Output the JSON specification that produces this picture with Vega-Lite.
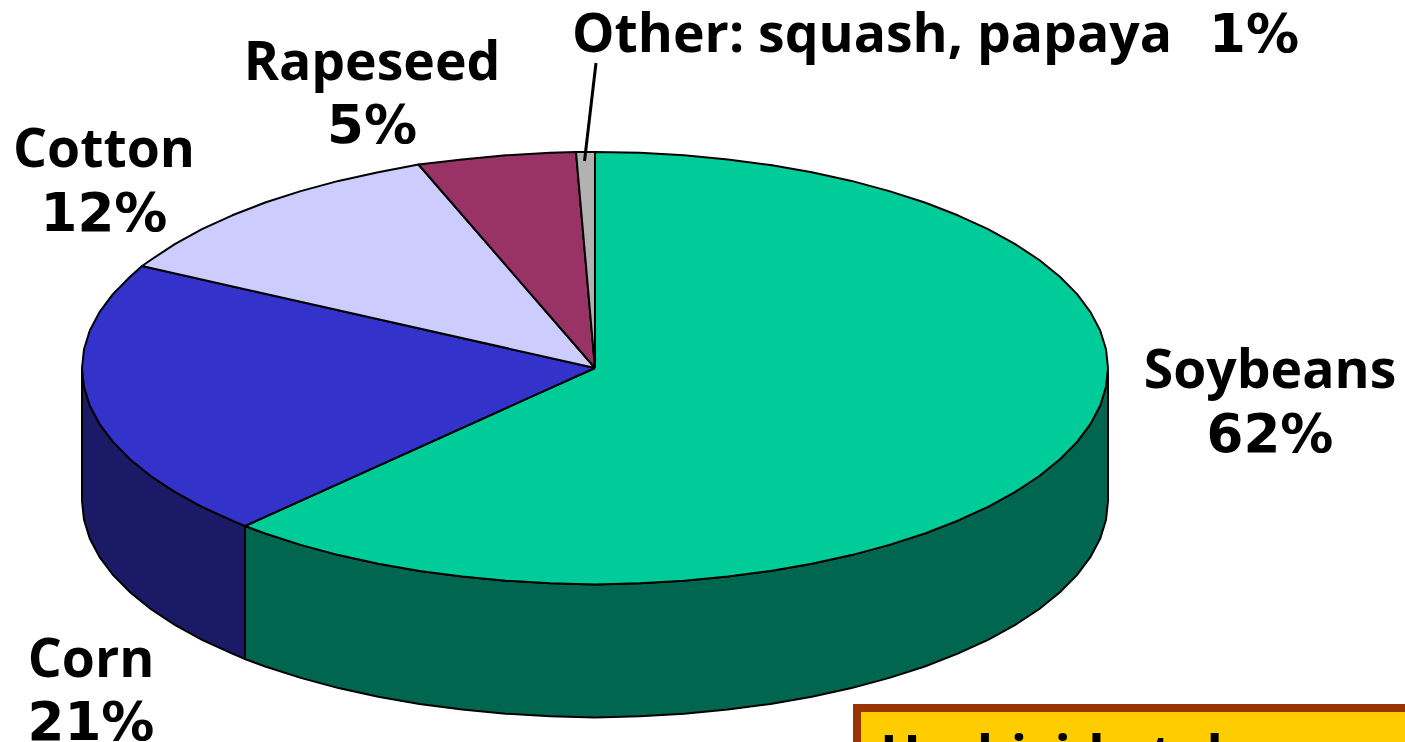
{"$schema":"https://vega.github.io/schema/vega-lite/v6.json","autosize":"none","padding":0,"width":1405,"height":742,"background":"white","view":{"stroke":null},
"config":{"axis":{"disable":true}},
"resolve":{"scale":{"fill":"independent"}},
"datasets":{
"walls":[
{"part":"Corn side","x":82,"y":368,"y2":501},{"part":"Corn side","x":84,"y":386.8,"y2":519.8},{"part":"Corn side","x":89.8,"y":405.5,"y2":538.5},{"part":"Corn side","x":99.5,"y":423.9,"y2":556.9},{"part":"Corn side","x":112.9,"y":441.9,"y2":574.9},{"part":"Corn side","x":130.1,"y":459.3,"y2":592.3},{"part":"Corn side","x":150.7,"y":476,"y2":609},{"part":"Corn side","x":174.8,"y":491.9,"y2":624.9},{"part":"Corn side","x":202,"y":506.8,"y2":639.8},{"part":"Corn side","x":232.3,"y":520.7,"y2":653.7},{"part":"Corn side","x":245,"y":526,"y2":659},
{"part":"Soybeans side","x":245,"y":526,"y2":659},{"part":"Soybeans side","x":265.2,"y":533.5,"y2":666.5},{"part":"Soybeans side","x":300.7,"y":544.9,"y2":677.9},{"part":"Soybeans side","x":338.5,"y":555.1,"y2":688.1},{"part":"Soybeans side","x":378.2,"y":563.8,"y2":696.8},{"part":"Soybeans side","x":419.5,"y":571,"y2":704},{"part":"Soybeans side","x":462.2,"y":576.6,"y2":709.6},{"part":"Soybeans side","x":505.9,"y":580.7,"y2":713.7},{"part":"Soybeans side","x":550.3,"y":583.2,"y2":716.2},{"part":"Soybeans side","x":595,"y":584.5,"y2":717.5},{"part":"Soybeans side","x":639.7,"y":583.2,"y2":716.2},{"part":"Soybeans side","x":684.1,"y":580.7,"y2":713.7},{"part":"Soybeans side","x":727.8,"y":576.6,"y2":709.6},{"part":"Soybeans side","x":770.5,"y":571,"y2":704},{"part":"Soybeans side","x":811.8,"y":563.8,"y2":696.8},{"part":"Soybeans side","x":851.5,"y":555.1,"y2":688.1},{"part":"Soybeans side","x":889.3,"y":544.9,"y2":677.9},{"part":"Soybeans side","x":924.8,"y":533.5,"y2":666.5},{"part":"Soybeans side","x":957.7,"y":520.7,"y2":653.7},{"part":"Soybeans side","x":988,"y":506.8,"y2":639.8},{"part":"Soybeans side","x":1015.2,"y":491.9,"y2":624.9},{"part":"Soybeans side","x":1039.3,"y":476,"y2":609},{"part":"Soybeans side","x":1059.9,"y":459.3,"y2":592.3},{"part":"Soybeans side","x":1077.1,"y":441.9,"y2":574.9},{"part":"Soybeans side","x":1090.5,"y":423.9,"y2":556.9},{"part":"Soybeans side","x":1100.2,"y":405.5,"y2":538.5},{"part":"Soybeans side","x":1106,"y":386.8,"y2":519.8},{"part":"Soybeans side","x":1108,"y":368,"y2":501}
],
"tops":[
{"part":"Soybeans","i":0,"x":595,"y":368},{"part":"Soybeans","i":1,"x":595,"y":152},{"part":"Soybeans","i":2,"x":639.7,"y":152.8},{"part":"Soybeans","i":3,"x":684.1,"y":155.3},{"part":"Soybeans","i":4,"x":727.8,"y":159.4},{"part":"Soybeans","i":5,"x":770.5,"y":165},{"part":"Soybeans","i":6,"x":811.8,"y":172.2},{"part":"Soybeans","i":7,"x":851.5,"y":180.9},{"part":"Soybeans","i":8,"x":889.3,"y":191.1},{"part":"Soybeans","i":9,"x":924.8,"y":202.5},{"part":"Soybeans","i":10,"x":957.7,"y":215.3},{"part":"Soybeans","i":11,"x":988,"y":229.2},{"part":"Soybeans","i":12,"x":1015.2,"y":244.1},{"part":"Soybeans","i":13,"x":1039.3,"y":260},{"part":"Soybeans","i":14,"x":1059.9,"y":276.7},{"part":"Soybeans","i":15,"x":1077.1,"y":294.1},{"part":"Soybeans","i":16,"x":1090.5,"y":312.1},{"part":"Soybeans","i":17,"x":1100.2,"y":330.5},{"part":"Soybeans","i":18,"x":1106,"y":349.2},{"part":"Soybeans","i":19,"x":1108,"y":368},{"part":"Soybeans","i":20,"x":1106,"y":386.8},{"part":"Soybeans","i":21,"x":1100.2,"y":405.5},{"part":"Soybeans","i":22,"x":1090.5,"y":423.9},{"part":"Soybeans","i":23,"x":1077.1,"y":441.9},{"part":"Soybeans","i":24,"x":1059.9,"y":459.3},{"part":"Soybeans","i":25,"x":1039.3,"y":476},{"part":"Soybeans","i":26,"x":1015.2,"y":491.9},{"part":"Soybeans","i":27,"x":988,"y":506.8},{"part":"Soybeans","i":28,"x":957.7,"y":520.7},{"part":"Soybeans","i":29,"x":924.8,"y":533.5},{"part":"Soybeans","i":30,"x":889.3,"y":544.9},{"part":"Soybeans","i":31,"x":851.5,"y":555.1},{"part":"Soybeans","i":32,"x":811.8,"y":563.8},{"part":"Soybeans","i":33,"x":770.5,"y":571},{"part":"Soybeans","i":34,"x":727.8,"y":576.6},{"part":"Soybeans","i":35,"x":684.1,"y":580.7},{"part":"Soybeans","i":36,"x":639.7,"y":583.2},{"part":"Soybeans","i":37,"x":595,"y":584.5},{"part":"Soybeans","i":38,"x":550.3,"y":583.2},{"part":"Soybeans","i":39,"x":505.9,"y":580.7},{"part":"Soybeans","i":40,"x":462.2,"y":576.6},{"part":"Soybeans","i":41,"x":419.5,"y":571},{"part":"Soybeans","i":42,"x":378.2,"y":563.8},{"part":"Soybeans","i":43,"x":338.5,"y":555.1},{"part":"Soybeans","i":44,"x":300.7,"y":544.9},{"part":"Soybeans","i":45,"x":265.2,"y":533.5},{"part":"Soybeans","i":46,"x":245,"y":526},{"part":"Soybeans","i":47,"x":595,"y":368},
{"part":"Corn","i":0,"x":595,"y":368},{"part":"Corn","i":1,"x":245,"y":526},{"part":"Corn","i":2,"x":232.3,"y":520.7},{"part":"Corn","i":3,"x":202,"y":506.8},{"part":"Corn","i":4,"x":174.8,"y":491.9},{"part":"Corn","i":5,"x":150.7,"y":476},{"part":"Corn","i":6,"x":130.1,"y":459.3},{"part":"Corn","i":7,"x":112.9,"y":441.9},{"part":"Corn","i":8,"x":99.5,"y":423.9},{"part":"Corn","i":9,"x":89.8,"y":405.5},{"part":"Corn","i":10,"x":84,"y":386.8},{"part":"Corn","i":11,"x":82,"y":368},{"part":"Corn","i":12,"x":84,"y":349.2},{"part":"Corn","i":13,"x":89.8,"y":330.5},{"part":"Corn","i":14,"x":99.5,"y":312.1},{"part":"Corn","i":15,"x":112.9,"y":294.1},{"part":"Corn","i":16,"x":130.1,"y":276.7},{"part":"Corn","i":17,"x":142,"y":266},{"part":"Corn","i":18,"x":595,"y":368},
{"part":"Cotton","i":0,"x":595,"y":368},{"part":"Cotton","i":1,"x":142,"y":266},{"part":"Cotton","i":2,"x":150.7,"y":260},{"part":"Cotton","i":3,"x":174.8,"y":244.1},{"part":"Cotton","i":4,"x":202,"y":229.2},{"part":"Cotton","i":5,"x":232.3,"y":215.3},{"part":"Cotton","i":6,"x":265.2,"y":202.5},{"part":"Cotton","i":7,"x":300.7,"y":191.1},{"part":"Cotton","i":8,"x":338.5,"y":180.9},{"part":"Cotton","i":9,"x":378.2,"y":172.2},{"part":"Cotton","i":10,"x":418.5,"y":164.5},{"part":"Cotton","i":11,"x":595,"y":368},
{"part":"Rapeseed","i":0,"x":595,"y":368},{"part":"Rapeseed","i":1,"x":418.5,"y":164.5},{"part":"Rapeseed","i":2,"x":462.2,"y":159.4},{"part":"Rapeseed","i":3,"x":505.9,"y":155.3},{"part":"Rapeseed","i":4,"x":550.3,"y":152.8},{"part":"Rapeseed","i":5,"x":576,"y":152},{"part":"Rapeseed","i":6,"x":595,"y":368},
{"part":"Other","i":0,"x":595,"y":368},{"part":"Other","i":1,"x":576,"y":152},{"part":"Other","i":2,"x":595,"y":152},{"part":"Other","i":3,"x":595,"y":368}
],
"labels":[
{"t":"Soybeans","x":1270,"y":388},{"t":"Rapeseed","x":372,"y":80},{"t":"Cotton","x":104,"y":167},{"t":"Corn","x":91,"y":677},{"t":"Other: squash, papaya","x":872,"y":52}
],
"percents":[
{"t":"62%","x":1270,"y":452},{"t":"5%","x":372,"y":143},{"t":"12%","x":104,"y":231},{"t":"21%","x":91,"y":740},{"t":"1%","x":1254,"y":52}
]},
"layer":[
{"data":{"name":"walls"},"mark":{"type":"area","stroke":"black","strokeWidth":2,"clip":true},
"encoding":{"x":{"field":"x","type":"quantitative","scale":{"domain":[0,1405],"nice":false,"zero":false},"axis":null},"y":{"field":"y","type":"quantitative","scale":{"domain":[0,742],"reverse":true,"nice":false,"zero":false},"axis":null},"y2":{"field":"y2"},
"fill":{"field":"part","type":"nominal","legend":null,"scale":{"domain":["Soybeans side","Corn side"],"range":["#006650","#1A1A66"]}}}},
{"data":{"name":"tops"},"mark":{"type":"line","stroke":"black","strokeWidth":2,"strokeJoin":"round","clip":true},
"encoding":{"x":{"field":"x","type":"quantitative"},"y":{"field":"y","type":"quantitative"},"order":{"field":"i","type":"quantitative"},"detail":{"field":"part"},
"fill":{"field":"part","type":"nominal","legend":null,"scale":{"domain":["Soybeans","Corn","Cotton","Rapeseed","Other"],"range":["#00CC99","#3333CC","#CCCCFF","#993366","#B2B2B2"]}}}},
{"data":{"values":[{"x":596,"y":63,"x2":584.5,"y2":161}]},"mark":{"type":"rule","stroke":"black","strokeWidth":3},
"encoding":{"x":{"field":"x","type":"quantitative"},"y":{"field":"y","type":"quantitative"},"x2":{"field":"x2"},"y2":{"field":"y2"}}},
{"data":{"values":[{"x":857,"y":708,"x2":1500,"y2":850}]},"mark":{"type":"rect","fill":"#FFCC00","stroke":"#993300","strokeWidth":8,"clip":true},
"encoding":{"x":{"field":"x","type":"quantitative"},"y":{"field":"y","type":"quantitative"},"x2":{"field":"x2"},"y2":{"field":"y2"}}},
{"data":{"values":[{"t":"Herbicide tolerance","x":880,"y":774}]},"mark":{"type":"text","align":"left","baseline":"alphabetic","font":"Open Sans","fontWeight":"bold","fontSize":53.5,"color":"black","clip":true},
"encoding":{"x":{"field":"x","type":"quantitative"},"y":{"field":"y","type":"quantitative"},"text":{"field":"t"}}},
{"data":{"name":"labels"},"mark":{"type":"text","align":"center","baseline":"alphabetic","font":"Open Sans","fontWeight":"bold","fontSize":53.5,"color":"black"},
"encoding":{"x":{"field":"x","type":"quantitative"},"y":{"field":"y","type":"quantitative"},"text":{"field":"t"}}},
{"data":{"name":"percents"},"mark":{"type":"text","align":"center","baseline":"alphabetic","font":"DejaVu Sans","fontWeight":"bold","fontSize":53,"color":"black"},
"encoding":{"x":{"field":"x","type":"quantitative"},"y":{"field":"y","type":"quantitative"},"text":{"field":"t"}}}
]}
